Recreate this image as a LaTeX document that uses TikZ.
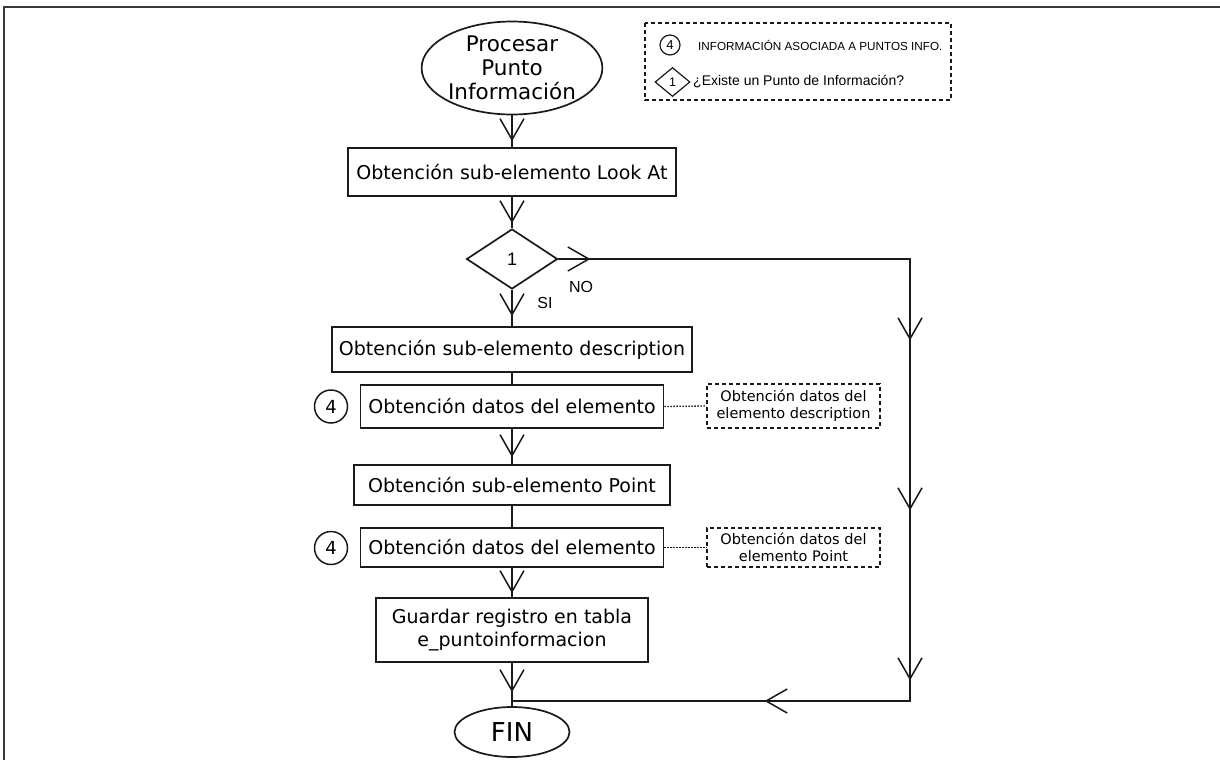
\documentclass[tikz,border=0pt]{standalone}
\usepackage{fontspec}
\setmainfont{DejaVu Sans}
\newfontfamily\arialf{Liberation Sans}
\usetikzlibrary{shapes.geometric,arrows.meta,decorations.markings}
\definecolor{linec}{HTML}{1A1A1A}
\definecolor{framec}{HTML}{3A3A3A}
\newcommand\vtip{\arrow{Straight Barb[length=21pt,width=24pt]}}
\begin{document}
\begin{tikzpicture}[x=1pt,y=-1pt,
  every node/.style={text=black, inner sep=0pt},
  box/.style={draw=linec, line width=1.7pt, rectangle, align=center, font=\fontsize{19}{23}\selectfont},
  term/.style={draw=linec, line width=1.7pt, ellipse, align=center},
  dec/.style={draw=linec, line width=1.7pt, diamond, aspect=1.5, font=\arialf\fontsize{18}{20}\selectfont},
  ref/.style={draw=linec, line width=1.5pt, circle, font=\fontsize{18}{20}\selectfont},
  ann/.style={draw=linec, line width=1.2pt, dash pattern=on 4pt off 3pt, rectangle, align=center, font=\fontsize{14.5}{17}\selectfont},
  conn/.style={draw=linec, line width=1.5pt},
  dotc/.style={draw=linec, line width=1.3pt, dash pattern=on 1.5pt off 1.5pt},
  lbl/.style={font=\arialf\fontsize{16}{18}\selectfont}
]
\useasboundingbox (0,0) rectangle (1220,760);
\draw[framec, line width=1.6pt] (1220,7) -- (4,7) -- (4,760);

% legend
\draw[linec, line width=1.3pt, dash pattern=on 4pt off 3pt] (645,23) rectangle (951,100);
\node[draw=linec, line width=1.2pt, circle, minimum size=20pt, font=\arialf\fontsize{13}{15}\selectfont] (lc) at (670,45) {4};
\node[anchor=west, font=\arialf\fontsize{11.7}{13}\selectfont] (lct) at (698,45) {INFORMACIÓN ASOCIADA A PUNTOS INFO.};
\node[draw=linec, line width=1.2pt, diamond, aspect=1.2, minimum width=35pt, minimum height=29pt, font=\arialf\fontsize{12.5}{14}\selectfont] (ld) at (672.5,82) {1};
\node[anchor=west, font=\arialf\fontsize{14}{16}\selectfont] (ldt) at (693,82) {¿Existe un Punto de Información?};

% main nodes
\node[term, minimum width=175pt, minimum height=93pt, font=\fontsize{21.5}{24}\selectfont] (start) at (512,68) {Procesar\\Punto\\Información};
\node[box, minimum width=328pt, minimum height=48pt] (b1) at (512,172) {Obtención sub-elemento Look At};
\node[dec, minimum width=91pt, minimum height=60pt] (d1) at (512,259) {1};
\node[box, minimum width=360pt, minimum height=45pt] (b2) at (512,349.5) {Obtención sub-elemento description};
\node[box, minimum width=303pt, minimum height=43pt] (b3) at (512,406.5) {Obtención datos del elemento};
\node[ref, minimum size=33pt] (c1) at (331,406.5) {4};
\node[ann, minimum width=173pt, minimum height=44pt] (a1) at (793.5,406) {Obtención datos del\\elemento description};
\node[box, minimum width=316pt, minimum height=40pt] (b4) at (512,485) {Obtención sub-elemento Point};
\node[box, minimum width=303pt, minimum height=39pt] (b5) at (512,547.5) {Obtención datos del elemento};
\node[ref, minimum size=33pt] (c2) at (331,548) {4};
\node[ann, minimum width=173pt, minimum height=39pt] (a2) at (793.5,547.5) {Obtención datos del\\elemento Point};
\node[box, minimum width=272pt, minimum height=64pt] (b6) at (512,630) {Guardar registro en tabla\\e\_puntoinformacion};
\node[term, minimum width=115pt, minimum height=50pt, font=\fontsize{26}{28}\selectfont] (fin) at (512,732) {FIN};

\coordinate (r1) at (910,259);
\coordinate (r2) at (910,701);
\coordinate (jn) at (512,701);

% connectors
\draw[conn, postaction={decorate, decoration={markings, mark=at position -6pt with {\vtip}}}] (start.south) -- (b1.north);
\draw[conn, postaction={decorate, decoration={markings, mark=at position -5pt with {\vtip}}}] (b1.south) -- (d1.north);
\draw[conn, postaction={decorate, decoration={markings, mark=at position -10pt with {\vtip}}}] (d1.south) -- (b2.north);
\draw[conn] (b2.south) -- (b3.north);
\draw[conn, postaction={decorate, decoration={markings, mark=at position -7pt with {\vtip}}}] (b3.south) -- (b4.north);
\draw[conn] (b4.south) -- (b5.north);
\draw[conn, postaction={decorate, decoration={markings, mark=at position -4pt with {\vtip}}}] (b5.south) -- (b6.north);
\draw[conn, postaction={decorate, decoration={markings, mark=at position -14pt with {\vtip}}}] (b6.south) -- (fin.north);
\draw[conn, postaction={decorate, decoration={markings,
   mark=at position 32pt with {\vtip},
   mark=at position 433pt with {\vtip},
   mark=at position 603pt with {\vtip},
   mark=at position 773pt with {\vtip},
   mark=at position 939pt with {\vtip}}}] (d1.east) -- (r1) -- (r2) -- (jn);
\draw[dotc] (b3.east) -- (a1.west);
\draw[dotc] (b5.east) -- (a2.west);

\node[lbl] (no) at (581,287) {NO};
\node[lbl] (si) at (545,303) {SI};
\end{tikzpicture}
\end{document}
